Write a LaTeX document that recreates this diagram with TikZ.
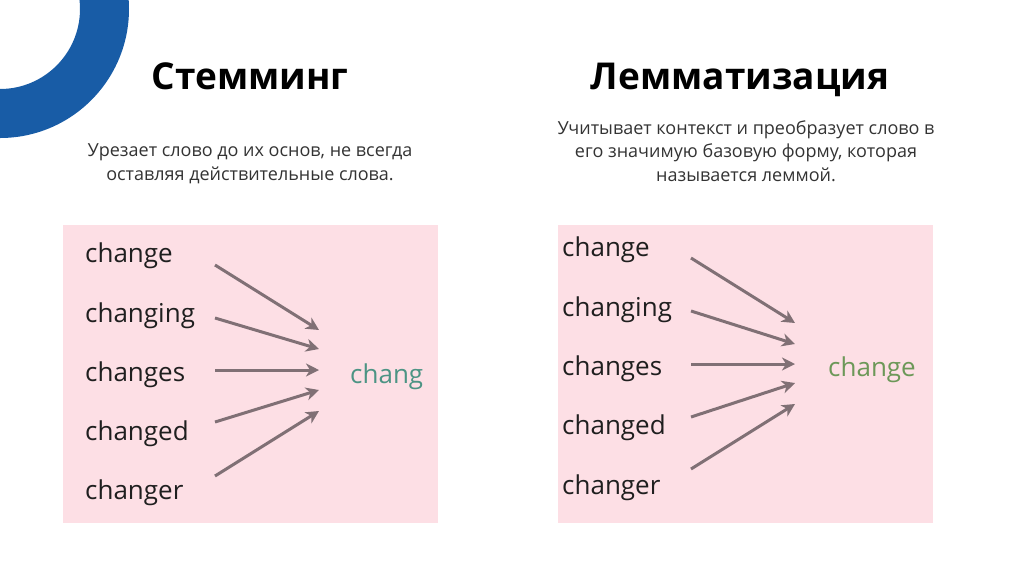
\documentclass[tikz,border=0pt]{standalone}
\usepackage{fontspec}
\setmainfont{Open Sans}
\usepackage{xcolor}
\usetikzlibrary{arrows.meta}

\definecolor{ringblue}{RGB}{24,92,166}
\definecolor{boxpink}{RGB}{253,223,229}
\definecolor{arrgrey}{RGB}{128,112,117}
\definecolor{stemteal}{RGB}{76,148,132}
\definecolor{lemgreen}{RGB}{108,152,88}

\begin{document}
\begin{tikzpicture}[
    x=1pt, y=-1pt,
    title/.style={anchor=base, inner sep=0pt, font=\fontsize{37}{42}\selectfont\bfseries},
    desc/.style={anchor=base, inner sep=0pt, align=center, text=black!80,
                 font=\fontsize{18}{23.5}\selectfont},
    word/.style={anchor=base west, inner sep=0pt, text=black!88,
                 font=\fontsize{26}{30}\selectfont},
    arr/.style={-{Stealth[length=13pt, width=13pt, inset=4pt]}, line width=3pt, arrgrey},
  ]
    \useasboundingbox (0,0) rectangle (1024,574);

    % corner ring
    \begin{scope}
      \clip (0,0) rectangle (1024,574);
      \fill[ringblue, even odd rule] (0,9) circle (129pt) (0,9) circle (80pt);
    \end{scope}

    % headings (base = last line)
    \node[title] (tstem) at (250,89)   {Стемминг};
    \node[title] (tlem)  at (740,89)   {Лемматизация};
    \node[desc]  (dstem) at (250,180)  {Урезает слово до их основ, не всегда\\оставляя действительные слова.};
    \node[desc]  (dlem)  at (746,181)  {Учитывает контекст и преобразует слово в\\его значимую базовую форму, которая\\называется леммой.};

    % panels
    \fill[boxpink] (63,225) rectangle (438,523);
    \fill[boxpink] (558,225) rectangle (933,523);

    % stemming side
    \node[word] (sw1) at (85,262) {change};
    \node[word] (sw2) at (85,322) {changing};
    \node[word] (sw3) at (85,381) {changes};
    \node[word] (sw4) at (85,440) {changed};
    \node[word] (sw5) at (85,499) {changer};
    \node[word, text=stemteal] (stem) at (350,383) {chang};

    \coordinate (sa1) at (215,265); \coordinate (sb1) at (319,330);
    \coordinate (sa2) at (215,318); \coordinate (sb2) at (319,349);
    \coordinate (sa3) at (215,370); \coordinate (sb3) at (319,370);
    \coordinate (sa4) at (215,422); \coordinate (sb4) at (319,390);
    \coordinate (sa5) at (215,476); \coordinate (sb5) at (319,411);
    \foreach \i in {1,...,5} \draw[arr] (sa\i) -- (sb\i);

    % lemmatization side
    \node[word] (lw1) at (562,256) {change};
    \node[word] (lw2) at (562,316) {changing};
    \node[word] (lw3) at (562,375) {changes};
    \node[word] (lw4) at (562,434) {changed};
    \node[word] (lw5) at (562,494) {changer};
    \node[word, text=lemgreen] (lemma) at (828,376) {change};

    \coordinate (la1) at (691,258); \coordinate (lb1) at (795,323);
    \coordinate (la2) at (691,311); \coordinate (lb2) at (795,344);
    \coordinate (la3) at (691,364); \coordinate (lb3) at (795,364);
    \coordinate (la4) at (691,417); \coordinate (lb4) at (795,383);
    \coordinate (la5) at (691,469); \coordinate (lb5) at (795,404);
    \foreach \i in {1,...,5} \draw[arr] (la\i) -- (lb\i);
  \end{tikzpicture}
\end{document}
